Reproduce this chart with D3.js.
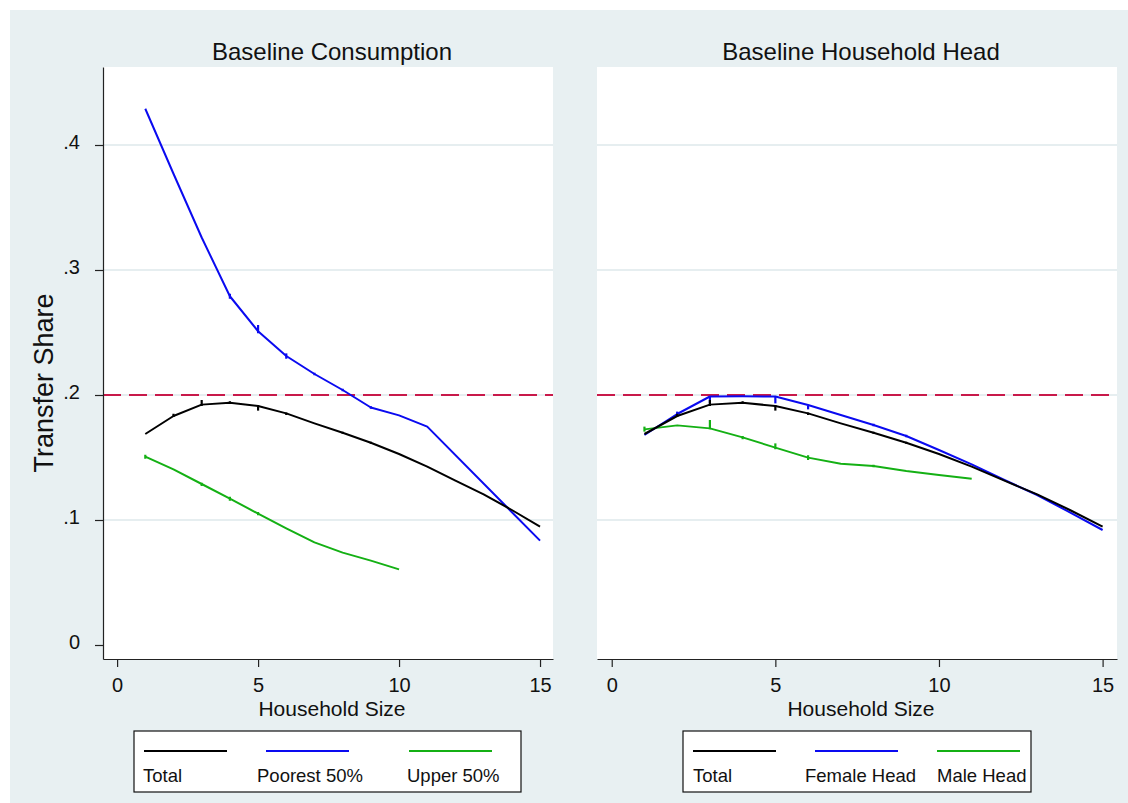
<!DOCTYPE html>
<html>
<head>
  <meta charset="utf-8">
  <style>
    body { margin: 0; background: #fff; }
    svg text { font-family: "Liberation Sans", Arial, sans-serif; fill: #111; }
    .axis path, .axis line { stroke: #222; stroke-width: 1.2; }
    .axis text { font-size: 20px; }
  </style>
  <script src="https://d3js.org/d3.v7.min.js"></script>
</head>
<body>
  <svg width="1128" height="803"></svg>
  <script>
    // household size categories
    var hhSize = [1, 2, 3, 4, 5, 6, 7, 8, 9, 10, 11, 12, 13, 14, 15];

    // transfer share by household size
    var total = [0.1688, 0.1832, 0.1923, 0.1938, 0.1912, 0.1853, 0.1773, 0.1698, 0.1618, 0.1528, 0.1427, 0.1315, 0.1205, 0.1080, 0.0947];
    var poorest = [0.429, 0.377, 0.326, 0.279, 0.251, 0.2312, 0.2168, 0.204, 0.190, 0.1837, 0.1747, null, null, null, 0.0835];
    var upper = [0.1507, 0.1405, 0.1288, 0.1171, 0.1051, 0.0933, 0.0821, 0.0739, 0.0675, 0.0605, null, null, null, null, null];
    var femaleHead = [0.168, 0.1848, 0.1988, 0.1990, 0.1988, 0.192, 0.184, 0.176, 0.1672, 0.156, 0.1445, 0.132, 0.120, 0.1061, 0.092];
    var maleHead = [0.1725, 0.1757, 0.1733, 0.1661, 0.1579, 0.1499, 0.145, 0.1432, 0.1392, 0.136, 0.133, null, null, null, null];

    // small confidence spikes (lo / hi), null = none visible
    var totalLo = [null, 0.1824, 0.1912, 0.1928, 0.1875, 0.184, null, 0.169, 0.161, null, null, null, null, null, null];
    var totalHi = [null, 0.185, 0.196, 0.195, 0.192, 0.186, null, 0.1706, 0.1626, null, null, null, null, null, null];
    var poorestLo = [null, null, null, 0.277, 0.2494, 0.229, 0.2158, 0.203, 0.189, null, null, null, null, null, null];
    var poorestHi = [null, null, null, 0.281, 0.256, 0.2333, 0.2178, 0.205, 0.191, null, null, null, null, null, null];
    var upperLo = [0.149, null, 0.1272, 0.1154, 0.1038, null, null, null, null, null, null, null, null, null, null];
    var upperHi = [0.1522, null, 0.1298, 0.1186, 0.1064, null, null, null, null, null, null, null, null, null, null];
    var femaleLo = [null, 0.1827, 0.1933, null, 0.1933, 0.1885, null, 0.175, 0.1662, null, null, null, null, null, null];
    var femaleHi = [null, 0.1867, 0.1992, null, 0.1992, 0.1915, null, 0.177, 0.1682, null, null, null, null, null, null];
    var maleLo = [0.1707, null, 0.1726, 0.1646, 0.1566, 0.148, null, 0.1422, null, null, null, null, null, null, null];
    var maleHi = [0.1747, null, 0.180, 0.1672, 0.1613, 0.1518, null, 0.1442, null, null, null, null, null, null, null];

    var xTicks = [0, 5, 10, 15];
    var yTicks = [0, 0.1, 0.2, 0.3, 0.4];
    var yTickLabels = ["0", ".1", ".2", ".3", ".4"];
    var refLine = 0.2;

    var svg = d3.select("svg");

    // graph region background
    svg.append("rect")
      .attr("x", 10).attr("y", 10)
      .attr("width", 1118).attr("height", 793)
      .attr("fill", "#e8f0f2");

    var y = d3.scaleLinear().domain([-0.0112, 0.4624]).range([659, 67]);

    function series(name, vals, lo, hi, color) {
      return { name: name, vals: vals, lo: lo, hi: hi, color: color };
    }

    var panels = [
      {
        title: "Baseline Consumption",
        left: 103, right: 553, dom: [-0.5, 15.46], yAxis: true,
        lines: [
          series("Total", total, totalLo, totalHi, "#000000"),
          series("Poorest 50%", poorest, poorestLo, poorestHi, "#0a0af0"),
          series("Upper 50%", upper, upperLo, upperHi, "#14b014")
        ],
        legend: { x: 134, w: 387, lineX: [144, 266, 409], textX: [143, 257, 407] }
      },
      {
        title: "Baseline Household Head",
        left: 597, right: 1117, dom: [-0.45, 15.44], yAxis: false,
        lines: [
          series("Total", total, totalLo, totalHi, "#000000"),
          series("Female Head", femaleHead, femaleLo, femaleHi, "#0a0af0"),
          series("Male Head", maleHead, maleLo, maleHi, "#14b014")
        ],
        legend: { x: 683, w: 348, lineX: [693, 815, 937], textX: [693, 805, 937] }
      }
    ];

    panels.forEach(function (p) {
      var x = d3.scaleLinear().domain(p.dom).range([p.left, p.right]);
      var g = svg.append("g");
      var mid = (p.left + p.right) / 2 + 4;

      g.append("rect")
        .attr("x", p.left).attr("y", 67)
        .attr("width", p.right - p.left).attr("height", 659 - 67)
        .attr("fill", "#fff");

      // gridlines
      g.selectAll(".grid").data(yTicks.slice(1)).enter()
        .append("line")
        .attr("x1", p.left).attr("x2", p.right)
        .attr("y1", function (d) { return y(d); })
        .attr("y2", function (d) { return y(d); })
        .attr("stroke", "#e6eef0").attr("stroke-width", 2);

      // reference line
      g.append("line")
        .attr("x1", p.left).attr("x2", p.right)
        .attr("y1", y(refLine)).attr("y2", y(refLine))
        .attr("stroke", "#c8194a").attr("stroke-width", 2.2)
        .attr("stroke-dasharray", "18,8");

      var line = d3.line()
        .defined(function (d) { return d.v != null; })
        .x(function (d) { return x(d.x); })
        .y(function (d) { return y(d.v); });

      // draw in reverse so Total sits on top like the original
      p.lines.slice().reverse().forEach(function (s) {
        var pts = hhSize.map(function (h, i) {
          return { x: h, v: s.vals[i], lo: s.lo[i], hi: s.hi[i] };
        });
        var drawn = pts.filter(function (d) { return d.v != null; });
        g.append("path")
          .datum(drawn)
          .attr("fill", "none")
          .attr("stroke", s.color)
          .attr("stroke-width", 2)
          .attr("stroke-linejoin", "round")
          .attr("d", line);
        g.selectAll(null)
          .data(pts.filter(function (d) { return d.lo != null; }))
          .enter().append("line")
          .attr("x1", function (d) { return x(d.x); })
          .attr("x2", function (d) { return x(d.x); })
          .attr("y1", function (d) { return y(d.lo); })
          .attr("y2", function (d) { return y(d.hi); })
          .attr("stroke", s.color).attr("stroke-width", 2.2);
      });

      // x axis
      g.append("g")
        .attr("class", "axis")
        .attr("transform", "translate(0,659)")
        .call(d3.axisBottom(x).tickValues(xTicks).tickSize(8).tickSizeOuter(0).tickPadding(11));

      if (p.yAxis) {
        g.append("g")
          .attr("class", "axis")
          .attr("transform", "translate(" + p.left + ",0)")
          .call(d3.axisLeft(y).tickValues(yTicks).tickSize(8).tickSizeOuter(0).tickPadding(15)
            .tickFormat(function (d, i) { return yTickLabels[i]; }))
          .selectAll("text").attr("dy", "0.15em");
      }

      g.selectAll(".axis .domain").attr("stroke", "#222");

      g.append("text")
        .attr("x", mid).attr("y", 60)
        .attr("text-anchor", "middle")
        .style("font-size", "24px")
        .text(p.title);

      g.append("text")
        .attr("x", mid).attr("y", 716)
        .attr("text-anchor", "middle")
        .style("font-size", "21px")
        .text("Household Size");

      // legend
      var lg = g.append("g");
      lg.append("rect")
        .attr("x", p.legend.x).attr("y", 731)
        .attr("width", p.legend.w).attr("height", 61)
        .attr("fill", "#fff").attr("stroke", "#111").attr("stroke-width", 1.2);
      p.lines.forEach(function (s, i) {
        lg.append("line")
          .attr("x1", p.legend.lineX[i]).attr("x2", p.legend.lineX[i] + 83)
          .attr("y1", 751).attr("y2", 751)
          .attr("stroke", s.color).attr("stroke-width", 2);
        lg.append("text")
          .attr("x", p.legend.textX[i]).attr("y", 782)
          .style("font-size", "18.5px")
          .text(s.name);
      });
    });

    svg.append("text")
      .attr("transform", "translate(53,383) rotate(-90)")
      .attr("text-anchor", "middle")
      .style("font-size", "27px")
      .text("Transfer Share");
  </script>
</body>
</html>
